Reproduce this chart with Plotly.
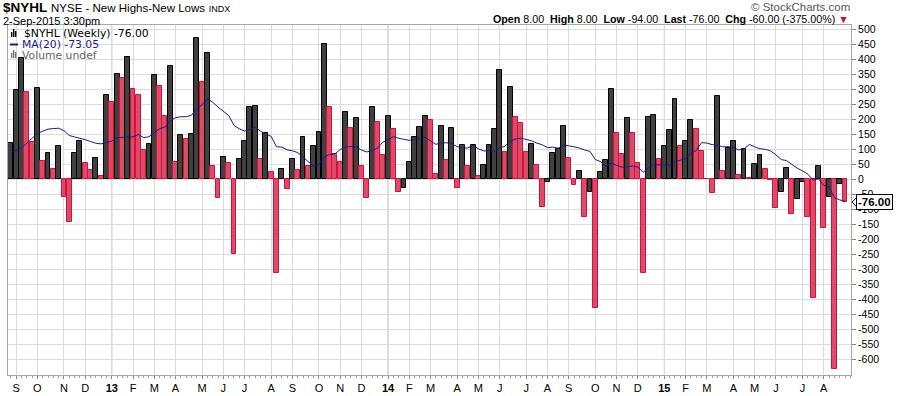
import numpy as np
import pandas as pd
import plotly.graph_objects as go

# ---------------- data ----------------
start_week = "2012-08-27"          # first weekly bar (Monday)
nyhl_weekly = [
    120, 297, 405, 290, 123, 303, 60, 87, 33, 110,
    -58, -141, 87, 127, 53, 30, 70, 10, 280, 257,
    350, 338, 407, 300, 280, 97, 117, 347, 310, 210,
    377, 58, 147, 133, 150, 470, 323, 420, 43, -63,
    73, 53, -248, 67, 127, 240, 243, 67, 153, 23,
    -311, 33, -31, 67, 30, 140, 43, 110, 157, 450,
    240, 83, 57, 223, 170, 203, 43, -61, 240, 190,
    81, 210, 167, -43, -30, 57, 140, 173, 210, 198,
    18, 177, 63, 170, -30, 113, 43, 113, 10, 47,
    113, 167, 363, 90, 307, 207, 187, 90, 117, 47,
    -91, -10, 87, 100, 177, 70, -20, 27, -124, -43,
    -428, 23, 63, 300, 153, 83, 203, 153, 53, -313,
    207, 213, 67, 110, 163, 267, 110, 127, 197, 167,
    93, 0, -47, 277, 27, 103, 127, 13, 100, 3,
    50, 80, 33, -3, -97, -43, 37, -115, -67, -10,
    -127, -395, 43, -163, -60, -632, -17, -76,
]
# MA(20) values shown for the first 19 weeks (earlier history not on the chart)
ma_lead = [88, 96, 105, 120, 135, 153, 160, 167, 169, 170,
           162, 146, 141, 137, 132, 126, 120, 118, 122]
y_ticks = list(range(-600, 501, 50))

header_title = "$NYHL"
header_sub = "NYSE - New Highs-New Lows"
header_date = "2-Sep-2015 3:30pm"
ohlc_text = ("<b>Open</b> 8.00  <b>High</b> 8.00  <b>Low</b> -94.00  "
             "<b>Last</b> -76.00  <b>Chg</b> -60.00 (-375.00%) ")
last_value = "-76.00"
ma_value = "-73.05"

# ---------------- derived ----------------
n = len(nyhl_weekly)
dates = pd.date_range(start_week, periods=n, freq="7D")
x = np.arange(n)

ma = pd.Series(nyhl_weekly, dtype=float).rolling(20).mean()
ma.iloc[:len(ma_lead)] = ma_lead

fill_cols, line_cols = [], []
for i, v in enumerate(nyhl_weekly):
    up = i == 0 or v > nyhl_weekly[i - 1]
    fill_cols.append("#404040" if up else "rgba(214,56,86,0.9)")
    line_cols.append("#000000" if up else "#d6103e")

tickvals, ticktext, year_lines = [], [], []
for i in range(1, n):
    if dates[i].month != dates[i - 1].month:
        tickvals.append(i)
        if dates[i].month == 1:
            ticktext.append("<b>" + dates[i].strftime("%y") + "</b>")
            year_lines.append(i)
        else:
            ticktext.append(dates[i].strftime("%b")[0])

# ---------------- figure ----------------
W, H = 902, 396
L, R, T, B = 8, 51, 25, 21
PW, PH = W - L - R, H - T - B


def px(xp):
    return (xp - L) / PW


def py(yp):
    return (H - B - yp) / PH


fig = go.Figure()
fig.add_trace(go.Bar(
    x=x, y=nyhl_weekly, width=0.92,
    marker=dict(color=fill_cols, line=dict(color=line_cols, width=1)),
    hoverinfo="y", showlegend=False,
))
fig.add_trace(go.Scatter(
    x=x, y=ma, mode="lines", line=dict(color="#1a1a8c", width=1),
    hoverinfo="skip", showlegend=False,
))

shapes = []
for i in year_lines:
    shapes.append(dict(type="line", xref="x", yref="paper", x0=i, x1=i, y0=0, y1=1,
                       line=dict(color="#b4b4b4", width=1), layer="below"))

last_v = nyhl_weekly[-1]
# pointer of the last-value tag
shapes.append(dict(type="path", xref="paper", yref="y",
                   path=f"M {px(852)} {last_v} L {px(857)} {last_v + 17} L {px(857)} {last_v - 17} Z",
                   fillcolor="white", line=dict(color="black", width=1)))
# legend icons
for k, (xx, hh) in enumerate([(11, 5), (13, 8), (15, 6)]):
    shapes.append(dict(type="rect", xref="paper", yref="paper",
                       x0=px(xx), x1=px(xx + 1.4), y0=py(37), y1=py(37 - hh),
                       fillcolor="black", line=dict(width=0)))
    shapes.append(dict(type="rect", xref="paper", yref="paper",
                       x0=px(xx), x1=px(xx + 1.4), y0=py(58), y1=py(58 - hh),
                       fillcolor="#777777", line=dict(width=0)))
shapes.append(dict(type="line", xref="paper", yref="paper",
                   x0=px(10), x1=px(18), y0=py(44.5), y1=py(44.5),
                   line=dict(color="#1a1a8c", width=2)))

FONT = "Arial, Liberation Sans, sans-serif"
LEGF = "DejaVu Sans, Verdana, sans-serif"
ann = [
    dict(x=px(1), y=py(7.5), xref="paper", yref="paper", xanchor="left", yanchor="middle",
         text=f"<b>{header_title}</b> <span style='font-size:11.5px'>{header_sub}</span>"
              f" <span style='font-size:9px'>INDX</span>",
         font=dict(family=FONT, size=13.5, color="black"), showarrow=False),
    dict(x=px(1), y=py(21), xref="paper", yref="paper", xanchor="left", yanchor="middle",
         text=header_date, font=dict(family=FONT, size=11, color="black"), showarrow=False),
    dict(x=px(852), y=py(7), xref="paper", yref="paper", xanchor="right", yanchor="middle",
         text="© StockCharts.com", font=dict(family=FONT, size=11.5, color="#555555"),
         showarrow=False),
    dict(x=px(851), y=py(19), xref="paper", yref="paper", xanchor="right", yanchor="middle",
         text=ohlc_text + "<span style='color:#c8102e'>▼</span>",
         font=dict(family=FONT, size=10.7, color="black"), showarrow=False),
    dict(x=px(22), y=py(33), xref="paper", yref="paper", xanchor="left", yanchor="middle",
         text=f"$NYHL (Weekly) {last_value}", font=dict(family=LEGF, size=10.8, color="black"),
         showarrow=False),
    dict(x=px(20), y=py(44.2), xref="paper", yref="paper", xanchor="left", yanchor="middle",
         text=f"MA(20) {ma_value}", font=dict(family=LEGF, size=10.8, color="#1a1a8c"),
         showarrow=False),
    dict(x=px(20), y=py(55), xref="paper", yref="paper", xanchor="left", yanchor="middle",
         text="Volume undef", font=dict(family=LEGF, size=10.8, color="#666666"),
         showarrow=False),
    dict(x=px(856), y=last_v, xref="paper", yref="y", xanchor="left", yanchor="middle",
         text=f"<b>{last_value}</b>", font=dict(family=FONT, size=11.5, color="black"),
         bgcolor="white", bordercolor="black", borderwidth=1, borderpad=1, showarrow=False),
]

fig.update_layout(
    width=W, height=H, margin=dict(l=L, r=R, t=T, b=B, autoexpand=False),
    paper_bgcolor="white", plot_bgcolor="white",
    bargap=0, showlegend=False,
    shapes=shapes, annotations=ann,
    xaxis=dict(range=[-0.53, 158.13], tickmode="array", tickvals=tickvals, ticktext=ticktext,
               automargin=False,
               showgrid=True, gridcolor="#dcdcdc", gridwidth=1,
               ticks="outside", ticklen=3, tickcolor="#888888",
               minor=dict(tickmode="linear", tick0=0, dtick=1, ticklen=2,
                          tickcolor="#999999", showgrid=False, ticks="outside"),
               showline=True, linecolor="#a8a8a8", mirror=True, zeroline=False,
               tickfont=dict(family=FONT, size=11, color="black"), fixedrange=True),
    yaxis=dict(range=[-652, 514], side="right", tickmode="array", tickvals=y_ticks,
               ticktext=[str(v) for v in y_ticks], automargin=False,
               showgrid=True, gridcolor="#dcdcdc", gridwidth=1,
               ticks="outside", ticklen=4, tickcolor="#888888",
               showline=True, linecolor="#a8a8a8", mirror=True, zeroline=False,
               tickfont=dict(family=FONT, size=10.5, color="black"), fixedrange=True),
)

fig.write_html("out.html", config={"displayModeBar": False},
               post_script="document.body.style.margin='0';")
